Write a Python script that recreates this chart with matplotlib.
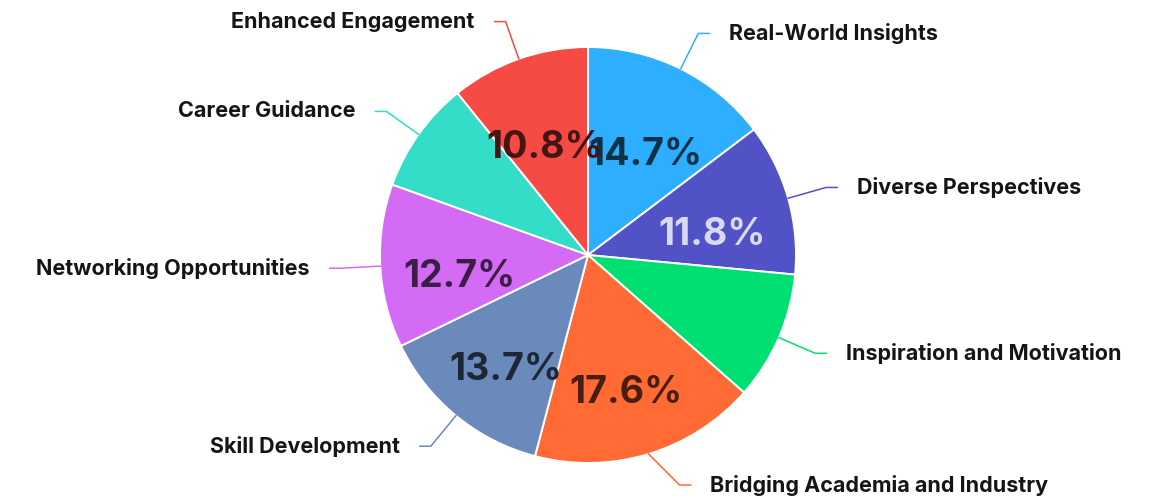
import numpy as np
import matplotlib
matplotlib.use("Agg")
import matplotlib.pyplot as plt
from matplotlib.colors import to_rgb

plt.rcParams["font.family"] = ["Inter", "DejaVu Sans"]

categories = [
    "Real-World Insights",
    "Diverse Perspectives",
    "Inspiration and Motivation",
    "Bridging Academia and Industry",
    "Skill Development",
    "Networking Opportunities",
    "Career Guidance",
    "Enhanced Engagement",
]
values = [14.7, 11.8, 10.0, 17.6, 13.7, 12.7, 8.7, 10.8]
colors = ["#2DAEFF", "#5052C6", "#00E072", "#FF6A35",
          "#6A8ABC", "#D46BF5", "#33DDC8", "#F54B44"]

W, H = 1164, 498
cx, cy, R = 588, 243, 208

fig = plt.figure(figsize=(W / 100, H / 100), dpi=100)
ax = fig.add_axes([0, 0, 1, 1])

wedges, _ = ax.pie(values, colors=colors, startangle=90, counterclock=False,
                   center=(cx, cy), radius=R,
                   wedgeprops=dict(edgecolor="white", linewidth=1.4))
ax.set_xlim(0, W)
ax.set_ylim(0, H)
ax.set_aspect("equal")
ax.axis("off")


def text_color(c):
    r, g, b = to_rgb(c)
    lum = 0.299 * r + 0.587 * g + 0.114 * b
    if lum > 0.45:
        return tuple(0.28 * v for v in (r, g, b))
    return tuple(0.22 * v + 0.78 for v in (r, g, b))


total = sum(values)
for w, val, name, col in zip(wedges, values, categories, colors):
    ang = np.deg2rad((w.theta1 + w.theta2) / 2)
    ca, sa = np.cos(ang), np.sin(ang)
    pct = 100 * val / total
    if pct > 10.5:
        ax.text(cx + 0.62 * R * ca, cy + 0.62 * R * sa - 15, f"{pct:.1f}%",
                ha="center", va="center", fontsize=27, fontweight="bold",
                color=text_color(col))
    # label line
    x0, y0 = cx + R * ca, cy + R * sa
    r2 = 1.19 * R
    x1, y1 = cx + r2 * ca, cy + r2 * sa
    if y1 < 13:
        y1 = 13
        x1 = cx + np.sign(ca) * np.sqrt(r2 ** 2 - (cy - y1) ** 2)
    side = 1 if ca >= 0 else -1
    x2 = x1 + side * 11
    ax.plot([x0, x1, x2], [y0, y1, y1], color=col, lw=1.1,
            solid_joinstyle="round")
    ax.text(x2 + side * 20, y1, name, ha="left" if side > 0 else "right",
            va="center", fontsize=15.5, fontweight="bold", color="#151515")

fig.savefig("out.png", dpi=100)
